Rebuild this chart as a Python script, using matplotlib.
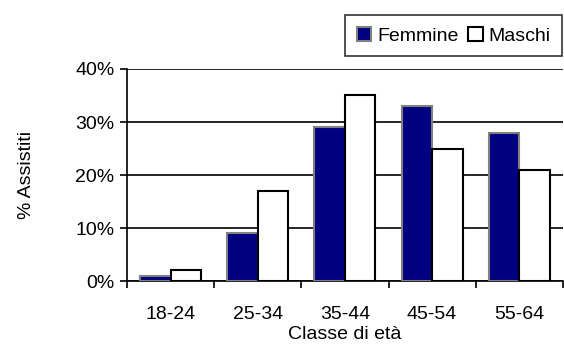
import numpy as np
import matplotlib.pyplot as plt
from matplotlib.ticker import FixedLocator, PercentFormatter

plt.rcParams['font.family'] = ['Liberation Sans', 'DejaVu Sans']

# dati (valori in %)
classi = ['18-24', '25-34', '35-44', '45-54', '55-64']
femmine = [1, 9, 29, 33, 28]
maschi = [2, 17, 35, 25, 21]

x = np.arange(len(classi))
w = 0.35
fs = 14

fig = plt.figure(figsize=(5.64, 3.49), dpi=100)
ax = fig.add_axes([0.2252, 0.1948, 0.7728, 0.6075])

ax.bar(x - w/2, femmine, w, color='#000080', edgecolor='#808080', linewidth=1.5,
       label='Femmine', zorder=3)
ax.bar(x + w/2, maschi, w, color='white', edgecolor='black', linewidth=1.5,
       label='Maschi', zorder=3)

ax.set_xlim(-0.5, len(classi) - 0.5)
ax.set_ylim(0, 40)
ax.set_yticks([0, 10, 20, 30, 40])
ax.yaxis.set_major_formatter(PercentFormatter(decimals=0))
ax.grid(axis='y', color='black', linewidth=1.2, zorder=0)

ax.set_xticks(x)
ax.set_xticklabels(classi)
ax.xaxis.set_minor_locator(FixedLocator(np.arange(-0.5, len(classi), 1)))
ax.tick_params(axis='x', which='major', length=0, pad=18, labelsize=fs)
ax.tick_params(axis='x', which='minor', length=5, width=1.2, direction='out')
ax.tick_params(axis='y', length=5, width=1.2, direction='out', labelsize=fs, pad=4)

for s in ['top', 'right']:
    ax.spines[s].set_visible(False)
for s in ['left', 'bottom']:
    ax.spines[s].set_linewidth(1.2)

ax.set_xlabel('Classe di età', fontsize=fs, labelpad=2)
ax.set_ylabel('% Assistiti', fontsize=fs, labelpad=29)

leg = fig.legend(loc='upper right', bbox_to_anchor=(0.997, 0.957), ncol=2,
                 fontsize=fs, frameon=True, fancybox=False, handlelength=0.75,
                 handleheight=0.75, handletextpad=0.3, columnspacing=0.5,
                 borderpad=0.6, borderaxespad=0)
leg.get_frame().set_edgecolor('black')
leg.get_frame().set_linewidth(1.2)

fig.savefig('out.png', dpi=100)
